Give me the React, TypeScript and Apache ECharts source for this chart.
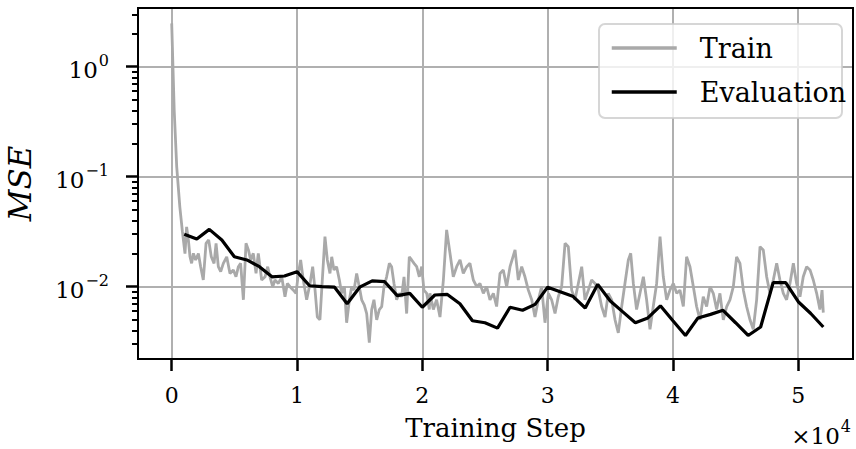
import { useEffect, useRef } from 'react';
import * as echarts from 'echarts';

const trainSteps = [
  0, 200, 400, 650, 850, 1060, 1190, 1330, 1460, 1590, 1730, 1910, 2130, 2310, 2520, 2740, 2950, 3160, 3380, 3540,
  3720, 3910, 4120, 4390, 4650, 4920, 5130, 5320, 5500, 5720, 5930, 6120, 6300, 6510, 6730, 6910, 7180, 7450, 7660, 7840,
  8060, 8240, 8510, 8780, 9040, 9230, 9440, 9710, 9920, 10110, 10290, 10500, 10770, 11040, 11250, 11440, 11620, 11830, 11970, 12230,
  12420, 12630, 12770, 12950, 13160, 13380, 13560, 13780, 13960, 14180, 14360, 14550, 14760, 14970, 15160, 15370, 15560, 15770, 15960, 16140,
  16360, 16570, 16760, 16940, 17150, 17370, 17550, 17740, 17950, 18170, 18350, 18540, 18750, 18960, 19150, 19340, 19550, 19760, 19950, 20130,
  20350, 20560, 20610, 20880, 21140, 21410, 21680, 21940, 22210, 22470, 22740, 23010, 23270, 23540, 23800, 24070, 24340, 24600, 24870, 25130,
  25400, 25670, 25930, 26200, 26460, 26730, 27000, 27400, 27660, 27930, 28190, 28460, 28730, 28990, 29260, 29520, 29790, 30060, 30320, 30590,
  30850, 31120, 31390, 31650, 31920, 32180, 32450, 32720, 32980, 33250, 33510, 33780, 34050, 34310, 34580, 34840, 35110, 35380, 35640, 35910,
  36170, 36440, 36630, 36840, 37100, 37370, 37640, 37900, 38170, 38430, 38700, 38970, 39230, 39500, 39760, 40030, 40300, 40560, 40830, 41090,
  41360, 41630, 41890, 42160, 42420, 42690, 42960, 43220, 43490, 43750, 44020, 44290, 44550, 44820, 45080, 45350, 45620, 45880, 46150, 46410,
  46680, 46950, 47210, 47480, 47740, 48010, 48280, 48540, 48810, 49070, 49340, 49610, 49870, 50140, 50400, 50670, 50940, 51200, 51470, 51730,
  51900, 52000,
];
const trainMse = [
  2.48, 0.40, 0.123, 0.053, 0.032, 0.020, 0.035, 0.0266, 0.0187, 0.0163, 0.0201, 0.0175, 0.020, 0.0152, 0.0115, 0.0248, 0.0266, 0.0187, 0.0163, 0.0248,
  0.0152, 0.0137, 0.0163, 0.0187, 0.0132, 0.0142, 0.0123, 0.0152, 0.0163, 0.0076, 0.0248, 0.0216, 0.0175, 0.0201, 0.0132, 0.0201, 0.0115, 0.0123, 0.0152, 0.0123,
  0.0100, 0.0115, 0.0107, 0.0123, 0.0081, 0.0107, 0.0100, 0.0093, 0.0087, 0.0132, 0.0175, 0.0115, 0.0076, 0.0107, 0.0152, 0.0093, 0.0053, 0.0050, 0.0093, 0.0285,
  0.0175, 0.0132, 0.0187, 0.0142, 0.0152, 0.0115, 0.0087, 0.0100, 0.0047, 0.0076, 0.0100, 0.0093, 0.0132, 0.0100, 0.0076, 0.0068, 0.0057, 0.0031, 0.0062, 0.0076,
  0.0050, 0.0062, 0.0066, 0.0100, 0.0123, 0.0163, 0.0152, 0.0107, 0.0076, 0.0087, 0.0081, 0.0123, 0.0057, 0.0187, 0.0175, 0.0163, 0.0152, 0.0123, 0.0152, 0.0093,
  0.0087, 0.0062, 0.0087, 0.0062, 0.0076, 0.0053, 0.0115, 0.0328, 0.0201, 0.0123, 0.0152, 0.0175, 0.0132, 0.0152, 0.0163, 0.0115, 0.0100, 0.0107, 0.0087, 0.0100,
  0.0076, 0.0087, 0.0066, 0.0132, 0.0142, 0.0100, 0.0152, 0.0216, 0.0115, 0.0152, 0.0123, 0.0093, 0.0076, 0.0053, 0.0076, 0.0100, 0.0047, 0.0087, 0.0076, 0.0057,
  0.0081, 0.0100, 0.0248, 0.0231, 0.0093, 0.0076, 0.0107, 0.0152, 0.0076, 0.0093, 0.0115, 0.0107, 0.0093, 0.0066, 0.0053, 0.0087, 0.0076, 0.0050, 0.0038, 0.0066,
  0.0107, 0.0175, 0.0201, 0.0107, 0.0062, 0.0087, 0.0123, 0.0076, 0.0041, 0.0066, 0.0107, 0.0285, 0.0123, 0.0076, 0.0093, 0.0107, 0.0087, 0.0093, 0.0066, 0.0187,
  0.0152, 0.0100, 0.0066, 0.0050, 0.0081, 0.0066, 0.0100, 0.0087, 0.0062, 0.0087, 0.0050, 0.0066, 0.0076, 0.0100, 0.0187, 0.0163, 0.0093, 0.0066, 0.0050, 0.0041,
  0.0076, 0.0231, 0.0216, 0.0123, 0.0087, 0.0115, 0.0163, 0.0115, 0.0087, 0.0076, 0.0107, 0.0163, 0.0107, 0.0081, 0.0123, 0.0152, 0.0142, 0.0115, 0.0087, 0.0062,
  0.0093, 0.0058,
];

const evalSteps = [
  1000, 2000, 3000, 4000, 5000, 6000, 7000, 8000, 9000, 10000, 11000, 12000, 13000, 14000, 15000, 16000, 17000, 18000, 19000, 20000,
  21000, 22000, 23000, 24000, 25000, 26000, 27000, 28000, 29000, 30000, 31000, 32000, 33000, 34000, 35000, 36000, 37000, 38000, 39000, 40000,
  41000, 42000, 43000, 44000, 45000, 46000, 47000, 48000, 49000, 50000, 51000, 52000,
];
const evalMse = [
  0.0300, 0.0271, 0.0332, 0.0266, 0.0187, 0.0175, 0.0152, 0.0123, 0.0125, 0.0137, 0.0102, 0.0100, 0.0099, 0.0070, 0.0099, 0.0113, 0.0111, 0.0083, 0.0087, 0.0065,
  0.0084, 0.0085, 0.0070, 0.0049, 0.0047, 0.0042, 0.0065, 0.0061, 0.0069, 0.0099, 0.0090, 0.0082, 0.0064, 0.0105, 0.0074, 0.0059, 0.0047, 0.0052, 0.0067, 0.0049,
  0.0036, 0.0052, 0.0056, 0.0061, 0.0047, 0.0036, 0.0043, 0.0109, 0.0109, 0.0073, 0.0057, 0.0043,
];

const xTickValues = [0, 10000, 20000, 30000, 40000, 50000];
const xTickLabels = ['0', '1', '2', '3', '4', '5'];
const yMajorTicks = [0.01, 0.1, 1];
const yMinorTicks = [
  0.003, 0.004, 0.005, 0.006, 0.007, 0.008, 0.009,
  0.02, 0.03, 0.04, 0.05, 0.06, 0.07, 0.08, 0.09,
  0.2, 0.3, 0.4, 0.5, 0.6, 0.7, 0.8, 0.9,
  2, 3,
];

const FONT = 'DejaVu Serif';
const GRID = { left: 138, top: 8, width: 715, height: 351 };

export default function App() {
  const ref = useRef<HTMLDivElement>(null);
  useEffect(() => {
    if (!ref.current) return;
    const chart = echarts.init(ref.current, null, { renderer: 'svg' });
    const supRich = {
      b: { fontFamily: FONT, fontSize: 23, color: '#000', padding: [6, 0, 0, 0] },
      s: { fontFamily: FONT, fontSize: 16, color: '#000', verticalAlign: 'top', padding: [0, 0, 0, 1] },
    };
    chart.setOption({
      animation: false,
      backgroundColor: '#fff',
      grid: {
        left: GRID.left,
        top: GRID.top,
        width: GRID.width,
        height: GRID.height,
        containLabel: false,
        outerBoundsMode: 'none',
      },
      xAxis: {
        type: 'value',
        min: -2690,
        max: 54370,
        name: 'Training Step',
        nameLocation: 'middle',
        nameGap: 54,
        nameTextStyle: { fontFamily: FONT, fontSize: 26, color: '#000', lineHeight: 30 },
        axisLine: { show: false, onZero: false },
        axisTick: { show: true, customValues: xTickValues, length: 12, lineStyle: { color: '#000', width: 2.5 } },
        axisLabel: {
          customValues: xTickValues,
          margin: 25,
          fontFamily: FONT,
          fontSize: 22,
          color: '#000',
          formatter: (v: number) => {
            const i = xTickValues.indexOf(v);
            return i >= 0 ? xTickLabels[i] : '';
          },
        },
        splitLine: { show: true, lineStyle: { color: '#b0b0b0', width: 2 } },
      },
      yAxis: [
        {
          type: 'log',
          logBase: 10,
          min: 0.0022,
          max: 3.42,
          position: 'left',
          name: 'MSE',
          nameLocation: 'middle',
          nameGap: 102,
          nameRotate: 90,
          nameTextStyle: { fontFamily: FONT, fontSize: 31, fontStyle: 'italic', color: '#000', lineHeight: 32 },
          axisLine: { show: false, onZero: false },
          axisTick: { show: true, customValues: yMajorTicks, length: 12, lineStyle: { color: '#000', width: 2.5 } },
          axisLabel: {
            customValues: yMajorTicks,
            margin: 29,
            formatter: (v: number) => {
              const e = Math.round(Math.log10(v));
              const es = e < 0 ? '\u2212' + String(-e) : String(e);
              return `{b|10}{s|${es}}`;
            },
            rich: supRich,
          },
          splitLine: { show: true, lineStyle: { color: '#b0b0b0', width: 2 } },
        },
        {
          type: 'log',
          logBase: 10,
          min: 0.0022,
          max: 3.42,
          position: 'left',
          offset: 0,
          axisLine: { show: false, onZero: false },
          axisTick: { show: true, customValues: yMinorTicks, length: 6, lineStyle: { color: '#000', width: 2 } },
          axisLabel: { show: false },
          splitLine: { show: false },
        },
      ],
      legend: {
        orient: 'vertical',
        left: 610,
        top: 33,
        padding: 0,
        itemGap: 14,
        itemWidth: 65,
        itemHeight: 20,
        itemStyle: { opacity: 0 },
        lineStyle: { width: 3.5 },
        data: ['Train', 'Evaluation'],
        textStyle: { fontFamily: FONT, fontSize: 27, color: '#000', lineHeight: 30, padding: [0, 0, 0, 18] },
        z: 6,
      },
      graphic: [
        {
          type: 'rect',
          z: 5,
          shape: { x: 599, y: 24, width: 243, height: 94, r: 6 },
          style: { fill: 'rgba(255,255,255,0.8)', stroke: 'rgba(204,204,204,0.8)', lineWidth: 2 },
        },
        {
          type: 'rect',
          z: 20,
          shape: { x: GRID.left, y: GRID.top, width: GRID.width, height: GRID.height },
          style: { fill: 'none', stroke: '#000', lineWidth: 2 },
        },
        {
          type: 'text',
          z: 20,
          right: 5,
          top: 418,
          style: {
            text: '{b|\u00d710}{s|4}',
            rich: supRich,
          },
        },
      ],
      series: [
        {
          name: 'Train',
          type: 'line',
          data: trainSteps.map((s, i) => [s, trainMse[i]]),
          showSymbol: false,
          symbol: 'none',
          color: '#a9a9a9',
          lineStyle: { color: '#a9a9a9', width: 2.8 },
          z: 2,
        },
        {
          name: 'Evaluation',
          type: 'line',
          data: evalSteps.map((s, i) => [s, evalMse[i]]),
          showSymbol: false,
          symbol: 'none',
          color: '#000',
          lineStyle: { color: '#000', width: 3.2 },
          z: 3,
        },
      ],
    });
    return () => chart.dispose();
  }, []);
  return <div ref={ref} style={{ position: 'fixed', left: 0, top: 0, width: 856, height: 449 }} />;
}
